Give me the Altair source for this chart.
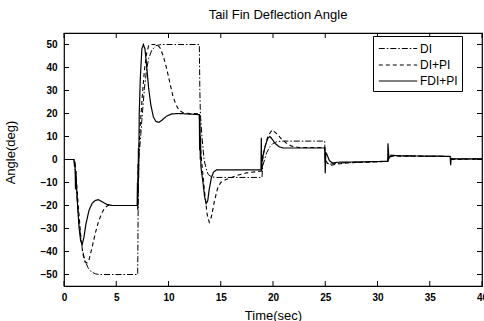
import altair as alt
import pandas as pd

# ---- time histories of the tail fin deflection (deg) ----
series_names = ["DI", "DI+PI", "FDI+PI"]

di_t = [0, 0.95, 1.05, 1.2, 1.4, 1.6, 1.8, 2.0, 2.3, 2.6, 3.0, 3.4, 7.05, 7.1, 7.15, 7.3, 7.5, 7.7,
        7.9, 8.1, 8.4, 8.8, 9.3, 12.95, 13.0, 13.05, 13.2, 13.4, 13.6, 13.8, 14.1, 14.5, 18.95,
        19.0, 19.2, 19.4, 19.7, 20.0, 20.4, 21.0, 24.95, 25.0, 25.5, 26.5, 31.0, 31.05, 31.5,
        32.0, 36.95, 37.0, 37.3, 40.0]
di_v = [0, 0, -3, -14, -26, -34, -40, -44, -47, -48.8, -49.7, -50, -50, -20, 0, 8, 20, 31,
        39, 44, 47.5, 49.5, 50, 50, 30, 20, 10, 0, -4, -6.5, -7.5, -7.8, -7.8,
        -3, 0, 3, 5.5, 7, 7.8, 8, 8, -1.5, -2, -1.5, -0.8, 1, 1.8,
        1.6, 1.3, 0, 0.2, 0.3]

dipi_t = [0, 0.95, 1.05, 1.2, 1.4, 1.6, 1.8, 2.0, 2.2, 2.4, 2.7, 3.0, 3.3, 3.6, 3.9, 4.2, 7.05,
          7.1, 7.15, 7.3, 7.5, 7.7, 7.9, 8.1, 8.3, 8.9, 9.2, 9.5, 9.8, 10.1, 10.4, 10.7, 11.0,
          11.4, 12.0, 12.95, 13.0, 13.1, 13.3, 13.5, 13.7, 13.9, 14.1, 14.4, 14.7, 15.0, 15.5,
          16.5, 17.5, 18.95, 19.0, 19.2, 19.5, 19.9, 20.3, 20.8, 21.3, 21.8, 22.5, 24.95, 25.0,
          25.2, 25.6, 26.2, 27.0, 31.0, 31.05, 31.6, 36.95, 37.0, 40.0]
dipi_v = [0, 0, -2, -10, -22, -33, -41, -44.5, -45, -43.5, -38, -32, -27, -23.5, -21, -20, -20,
          -5, 3, 15, 28, 39, 46, 49.5, 50, 50, 48.5, 45, 40, 34, 28, 24, 21.5,
          20.3, 20, 20, 10, 3, -7, -16, -24, -27.3, -25, -18, -12.5, -10, -8.7,
          -7, -5.8, -5, 0, 5, 10, 12.8, 11.5, 9, 7, 5.8, 5.2, 5.2, 0,
          -1.5, -2.5, -2, -1.5, -0.8, 1, 1.5, 1.3, 0, 0.2]

fdi_t = [0, 0.95, 1.0, 1.05, 1.1, 1.15, 1.2, 1.3, 1.45, 1.6, 1.75, 1.9, 2.1, 2.4, 2.7, 3.0, 3.3,
         3.7, 4.1, 4.6, 7.0, 7.03, 7.06, 7.08, 7.1, 7.12, 7.14, 7.2, 7.3, 7.45, 7.6, 7.75, 7.9,
         8.1, 8.3, 8.55, 8.8, 9.1, 9.4, 9.8, 10.3, 11.0, 12.95, 12.98, 13.01, 13.04, 13.07,
         13.1, 13.15, 13.3, 13.45, 13.6, 13.75, 13.9, 14.1, 14.3, 14.6, 18.85, 18.88, 18.92,
         18.96, 19.0, 19.1, 19.3, 19.5, 19.7, 19.9, 20.2, 20.6, 21.0, 24.95, 25.0, 25.05,
         25.15, 25.4, 25.7, 26.2, 30.98, 31.0, 31.1, 31.3, 32.0, 36.95, 37.0, 37.05, 37.2, 40.0]
fdi_v = [0, 0, -3, -1, -13, -5, -12, -20, -30, -35.5, -36.8, -34, -28, -22, -19, -17.8, -17.5,
         -18.5, -19.5, -20, -20, -10, -22, -2, -15, 5, -8, 20, 35, 48, 50, 48, 41,
         31, 24, 18.5, 16.5, 16.2, 17.2, 18.8, 19.8, 20, 19.5, 4, 18, 0, 10,
         -3, -5, -10, -16, -19.2, -18, -13, -8, -5.5, -4.5, -4.5, 9.5, -5,
         2, 0, 3, 6.5, 9.2, 10, 9, 7, 5.5, 5, 5, -6, 3,
         2.3, -0.5, -1.5, -1.2, -0.8, 7, 0.5, 1.9, 1.6, 1.4, -2.5, 0.5, 0.3, 0.3]

x_ticks = [0, 5, 10, 15, 20, 25, 30, 35, 40]
y_ticks = [-50, -40, -30, -20, -10, 0, 10, 20, 30, 40, 50]

rows = []
for name, ts, vs in [("DI", di_t, di_v), ("DI+PI", dipi_t, dipi_v), ("FDI+PI", fdi_t, fdi_v)]:
    for i, (t, v) in enumerate(zip(ts, vs)):
        rows.append({"series": name, "t": t, "v": v, "i": i})
df = pd.DataFrame(rows)

W, H = 418, 253
FONT = "Liberation Sans"
x_scale = alt.Scale(domain=[0, 40], nice=False, zero=False)
y_scale = alt.Scale(domain=[-55, 55], nice=False, zero=False)

# one axis definition per direction, shared by every layer so they merge cleanly
x_axis = alt.Axis(values=x_ticks, title="Time(sec)", labelPadding=6,
                  titlePadding=7, labelFlush=False, labelOverlap=False)
y_axis = alt.Axis(values=y_ticks, title="Angle(deg)", labelPadding=7,
                  titleX=-47, titleY=119, labelOverlap=False)

# wide horizontal line sample for the legend, kept short in height so rows stay tight
legend_line = "M-2.4,0L2.4,0"

lines = alt.Chart(df).mark_line(color="black", clip=True).encode(
    x=alt.X("t:Q", scale=x_scale, axis=x_axis),
    y=alt.Y("v:Q", scale=y_scale, axis=y_axis),
    strokeDash=alt.StrokeDash(
        "series:N",
        scale=alt.Scale(domain=series_names, range=[[6, 2, 1.5, 2], [4, 3], [1, 0]]),
        legend=alt.Legend(title=None, orient="none", legendX=309, legendY=3,
                          symbolType=legend_line, symbolSize=256, symbolStrokeWidth=1.2,
                          symbolStrokeColor="black", symbolOffset=12,
                          labelFontSize=12, labelFont=FONT,
                          labelColor="black", labelOffset=13, rowPadding=1,
                          strokeColor="black", fillColor="white", padding=4,
                          cornerRadius=0)),
    strokeWidth=alt.StrokeWidth(
        "series:N",
        scale=alt.Scale(domain=series_names, range=[1.0, 1.2, 1.4]),
        legend=None),
    order="i:Q",
)

xt = pd.DataFrame({"t": x_ticks})
yt = pd.DataFrame({"v": y_ticks})
tick_len = 5
bottom_ticks = alt.Chart(xt).mark_rule(color="black").encode(
    x=alt.X("t:Q", scale=x_scale, axis=x_axis), y=alt.value(H), y2=alt.value(H - tick_len))
top_ticks = alt.Chart(xt).mark_rule(color="black").encode(
    x=alt.X("t:Q", scale=x_scale, axis=x_axis), y=alt.value(0), y2=alt.value(tick_len))
left_ticks = alt.Chart(yt).mark_rule(color="black").encode(
    y=alt.Y("v:Q", scale=y_scale, axis=y_axis), x=alt.value(0), x2=alt.value(tick_len))
right_ticks = alt.Chart(yt).mark_rule(color="black").encode(
    y=alt.Y("v:Q", scale=y_scale, axis=y_axis), x=alt.value(W), x2=alt.value(W - tick_len))

chart = alt.layer(lines, bottom_ticks, top_ticks, left_ticks, right_ticks).properties(
    width=W, height=H,
    title=alt.TitleParams("Tail Fin Deflection Angle", fontSize=13, font=FONT,
                          fontWeight="normal", color="black", offset=11, dx=5,
                          anchor="middle"),
    autosize=alt.AutoSizeParams(type="none"),
    padding={"left": 64, "top": 33, "right": 2, "bottom": 35},
).configure_view(
    stroke="black", strokeWidth=1.2
).configure_axis(
    ticks=False, domain=False, grid=False,
    labelFont=FONT, labelFontSize=10, labelColor="black", labelFontWeight="bold",
    titleFont=FONT, titleFontSize=13, titleColor="black", titleFontWeight="normal",
)

chart.save("out.html", embed_options={"renderer": "svg", "actions": False})
